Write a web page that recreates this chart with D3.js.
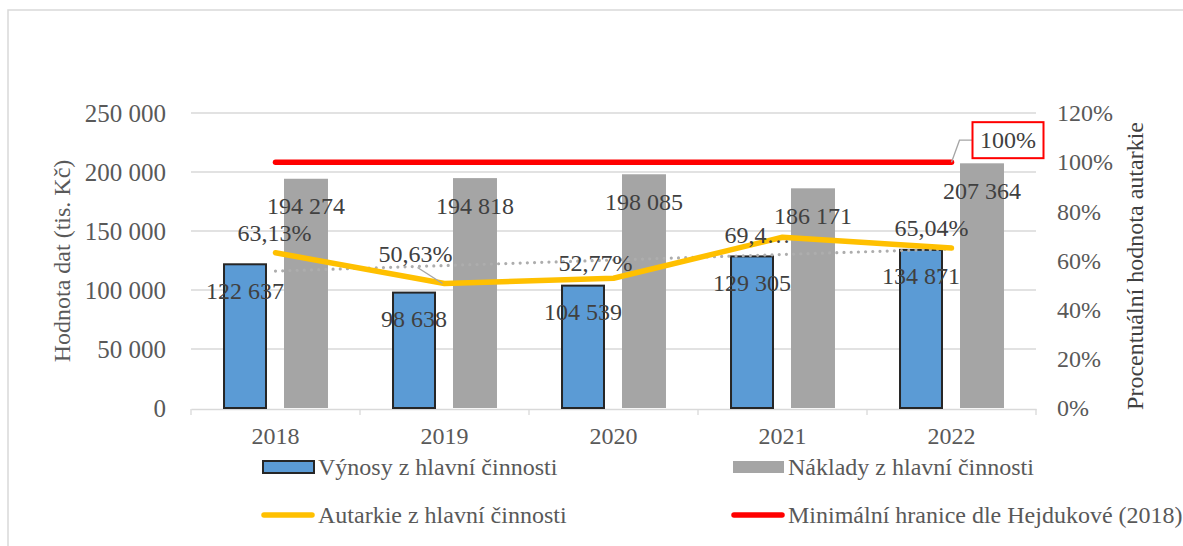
<!DOCTYPE html>
<html>
<head>
<meta charset="utf-8">
<script src="https://cdn.jsdelivr.net/npm/d3@7"></script>
<style>
  html, body { margin: 0; padding: 0; background: #fff; }
  svg { display: block; font-family: "Liberation Serif", "Times New Roman", serif; }
</style>
</head>
<body>
<svg id="chart" width="1183" height="546"></svg>
<script>
// ---- data ----
const years = ["2018", "2019", "2020", "2021", "2022"];
const vynosy = [122637, 98638, 104539, 129305, 134871];
const naklady = [194274, 194818, 198085, 186171, 207364];
const autarkie = [0.6313, 0.5063, 0.5277, 0.6945, 0.6504];
const minHranice = [1, 1, 1, 1, 1];
const trendEnds = [0.557, 0.647]; // linear trendline of autarkie (2018, 2022)
const leftTicks = [0, 50000, 100000, 150000, 200000, 250000];
const rightTicks = [0, 0.2, 0.4, 0.6, 0.8, 1.0, 1.2];
const seriesNames = ["Výnosy z hlavní činnosti", "Náklady z hlavní činnosti",
                     "Autarkie z hlavní činnosti", "Minimální hranice dle Hejdukové (2018)"];

// ---- layout ----
const W = 1183, H = 546;
const plot = { left: 191, right: 1036, top: 113, bottom: 408 };
const svg = d3.select("#chart");

const loc = d3.formatLocale({ decimal: ",", thousands: " ", grouping: [3], currency: ["", ""] });
const fmtNum = loc.format(",");
const fmtPct2 = loc.format(".2%");
const fmtPct0 = loc.format(".0%");

const x = d3.scaleBand().domain(years).range([plot.left, plot.right]).padding(0);
const xSub = d3.scaleBand().domain(["v", "n"]).range([0, x.bandwidth()])
  .paddingInner(0.279).paddingOuter(0.525);
const yL = d3.scaleLinear().domain([0, 250000]).range([plot.bottom, plot.top]);
const yR = d3.scaleLinear().domain([0, 1.2]).range([plot.bottom, plot.top]);
const cx = d => x(d) + x.bandwidth() / 2;

const textCol = "#595959";
const labelCol = "#404040";

// outer border
svg.append("rect").attr("x", 8).attr("y", 10).attr("width", W + 20).attr("height", H + 20)
  .attr("fill", "none").attr("stroke", "#D9D9D9").attr("stroke-width", 1.5);

// gridlines
svg.append("g").selectAll("line").data(leftTicks.filter(t => t > 0)).join("line")
  .attr("x1", plot.left).attr("x2", plot.right)
  .attr("y1", d => yL(d)).attr("y2", d => yL(d))
  .attr("stroke", "#D9D9D9").attr("stroke-width", 1.3);

// bottom axis line + ticks at category boundaries
const xAxis = d3.axisBottom(x).tickSize(0).tickPadding(18);
const gx = svg.append("g").attr("transform", `translate(0,${plot.bottom + 1})`).call(xAxis);
gx.select(".domain").attr("stroke", "#D9D9D9").attr("stroke-width", 1.3);
gx.selectAll(".tick text").attr("font-size", 24).attr("fill", textCol)
  .attr("font-family", "Liberation Serif").attr("dy", "0.7em");
const bounds = years.map(d => x(d)).concat([plot.right]);
svg.append("g").selectAll("line").data(bounds).join("line")
  .attr("x1", d => d).attr("x2", d => d)
  .attr("y1", plot.bottom + 1).attr("y2", plot.bottom + 7)
  .attr("stroke", "#D9D9D9").attr("stroke-width", 1.3);

// left axis
const gyL = svg.append("g").attr("transform", `translate(${plot.left},0)`)
  .call(d3.axisLeft(yL).tickValues(leftTicks).tickSize(0).tickPadding(25).tickFormat(fmtNum));
gyL.select(".domain").remove();
gyL.selectAll(".tick text").attr("font-size", 25).attr("fill", textCol)
  .attr("font-family", "Liberation Serif");

// right axis
const gyR = svg.append("g").attr("transform", `translate(${plot.right},0)`)
  .call(d3.axisRight(yR).tickValues(rightTicks).tickSize(0).tickPadding(21).tickFormat(fmtPct0));
gyR.select(".domain").remove();
gyR.selectAll(".tick text").attr("font-size", 24).attr("fill", textCol)
  .attr("font-family", "Liberation Serif");

// axis titles
svg.append("text").attr("transform", "translate(62,261) rotate(-90)")
  .attr("text-anchor", "middle").attr("dominant-baseline", "central")
  .attr("font-size", 24).attr("fill", textCol).text("Hodnota dat (tis. Kč)");
svg.append("text").attr("transform", "translate(1135,266) rotate(-90)")
  .attr("text-anchor", "middle").attr("dominant-baseline", "central")
  .attr("font-size", 24).attr("fill", "#404040").text("Procentuální hodnota autarkie");

// bars
const blue = "#5B9BD5", grey = "#A5A5A5";
svg.append("g").selectAll("rect").data(years).join("rect")
  .attr("x", d => x(d) + xSub("n")).attr("width", xSub.bandwidth())
  .attr("y", (d, i) => yL(naklady[i])).attr("height", (d, i) => plot.bottom - yL(naklady[i]))
  .attr("fill", grey);
svg.append("g").selectAll("rect").data(years).join("rect")
  .attr("x", d => x(d) + xSub("v") + 1).attr("width", xSub.bandwidth() - 2)
  .attr("y", (d, i) => yL(vynosy[i]) + 1).attr("height", (d, i) => plot.bottom - yL(vynosy[i]) - 1)
  .attr("fill", blue).attr("stroke", "#262626").attr("stroke-width", 2);

// trendline (dotted)
svg.append("line")
  .attr("x1", cx(years[0])).attr("x2", cx(years[years.length - 1]))
  .attr("y1", yR(trendEnds[0])).attr("y2", yR(trendEnds[1]))
  .attr("stroke", "#ADADAD").attr("stroke-width", 3.2)
  .attr("stroke-linecap", "round").attr("stroke-dasharray", "0 7.2");

// red line
const line = d3.line().x((d, i) => cx(years[i])).y(d => yR(d));
svg.append("path").datum(minHranice).attr("d", line)
  .attr("fill", "none").attr("stroke", "#FF0000").attr("stroke-width", 5.5)
  .attr("stroke-linecap", "round").attr("stroke-linejoin", "round");

// autarkie line
svg.append("path").datum(autarkie).attr("d", line)
  .attr("fill", "none").attr("stroke", "#FFC000").attr("stroke-width", 5.5)
  .attr("stroke-linecap", "round").attr("stroke-linejoin", "round");

// bar labels (inside end)
const lbl = svg.append("g").attr("font-size", 24).attr("fill", labelCol)
  .attr("text-anchor", "middle").attr("dominant-baseline", "central");
lbl.selectAll("text.v").data(years).join("text").attr("class", "v")
  .attr("x", d => x(d) + xSub("v") + xSub.bandwidth() / 2)
  .attr("y", (d, i) => yL(vynosy[i]) + 27.5).text((d, i) => fmtNum(vynosy[i]));
lbl.selectAll("text.n").data(years).join("text").attr("class", "n")
  .attr("x", d => x(d) + xSub("n") + xSub.bandwidth() / 2)
  .attr("y", (d, i) => yL(naklady[i]) + 27.5).text((d, i) => fmtNum(naklady[i]));

// autarkie labels (offsets from points)
const pctOffsets = [[-1, -20], [-29, -30], [-18, -15], [-25, -2], [-20, -20]];
const truncated = [false, false, false, true, false];
// leader line for 2019 label
svg.append("line")
  .attr("x1", cx(years[1]) - 27).attr("y1", yR(autarkie[1]) - 16)
  .attr("x2", cx(years[1]) - 2).attr("y2", yR(autarkie[1]))
  .attr("stroke", "#A5A5A5").attr("stroke-width", 1.3);
lbl.selectAll("text.p").data(years).join("text").attr("class", "p")
  .attr("x", (d, i) => cx(d) + pctOffsets[i][0])
  .attr("y", (d, i) => yR(autarkie[i]) + pctOffsets[i][1])
  .text((d, i) => truncated[i] ? fmtPct2(autarkie[i]).slice(0, 4) + "…" : fmtPct2(autarkie[i]));

// 100% callout
const lastX = cx(years[years.length - 1]), lastY = yR(minHranice[minHranice.length - 1]);
svg.append("polyline")
  .attr("points", `${lastX},${lastY} ${lastX + 8},${lastY - 22} ${lastX + 21},${lastY - 22}`)
  .attr("fill", "none").attr("stroke", "#A5A5A5").attr("stroke-width", 1.3);
svg.append("rect").attr("x", lastX + 21).attr("y", lastY - 40).attr("width", 71).attr("height", 36)
  .attr("fill", "#fff").attr("stroke", "#FF0000").attr("stroke-width", 2);
svg.append("text").attr("x", lastX + 56.5).attr("y", lastY - 22)
  .attr("text-anchor", "middle").attr("dominant-baseline", "central")
  .attr("font-size", 24).attr("fill", labelCol).text(fmtPct0(minHranice[minHranice.length - 1]));

// legend
const leg = svg.append("g").attr("font-size", 24).attr("fill", textCol);
const legItems = [
  { name: seriesNames[0], x: 262, y: 467, type: "rect", fill: blue, stroke: "#262626" },
  { name: seriesNames[1], x: 732, y: 467, type: "rect", fill: grey, stroke: "none" },
  { name: seriesNames[2], x: 262, y: 515, type: "line", color: "#FFC000" },
  { name: seriesNames[3], x: 732, y: 515, type: "line", color: "#FF0000" }
];
legItems.forEach(it => {
  if (it.type === "rect") {
    leg.append("rect").attr("x", it.x + 1).attr("y", it.y - 6).attr("width", 51).attr("height", 12)
      .attr("fill", it.fill).attr("stroke", it.stroke).attr("stroke-width", 2);
  } else {
    leg.append("line").attr("x1", it.x + 2).attr("x2", it.x + 50).attr("y1", it.y).attr("y2", it.y)
      .attr("stroke", it.color).attr("stroke-width", 5.5).attr("stroke-linecap", "round");
  }
  leg.append("text").attr("x", it.x + 56).attr("y", it.y).attr("dominant-baseline", "central")
    .attr("fill", textCol).text(it.name);
});
</script>
</body>
</html>
